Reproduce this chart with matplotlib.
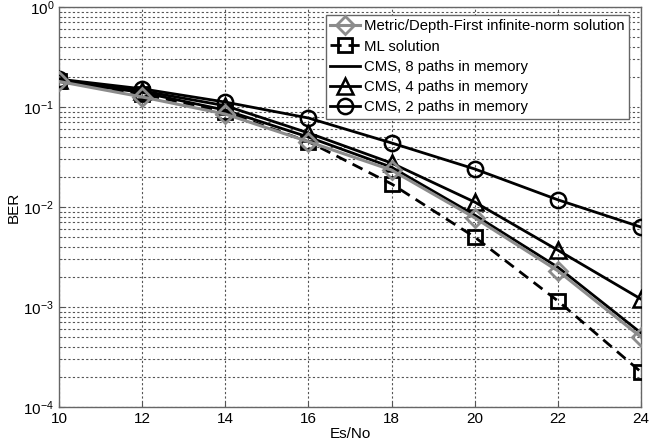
import matplotlib
matplotlib.use("Agg")
import matplotlib.pyplot as plt
from matplotlib.ticker import LogLocator, NullFormatter, FixedLocator

plt.rcParams['font.family'] = ['Liberation Sans', 'DejaVu Sans']

esno = [10, 12, 14, 16, 18, 20, 22, 24]
ber_metric = [0.18, 0.126, 0.085, 0.045, 0.0234, 0.0078, 0.0023, 0.0005]
ber_ml = [0.18, 0.135, 0.089, 0.045, 0.017, 0.005, 0.00115, 0.000224]
ber_cms8 = [0.18, 0.14, 0.093, 0.05, 0.025, 0.0083, 0.0025, 0.00055]
ber_cms4 = [0.185, 0.145, 0.103, 0.055, 0.0275, 0.0112, 0.0037, 0.0012]
ber_cms2 = [0.19, 0.152, 0.112, 0.0776, 0.0437, 0.024, 0.0118, 0.0063]

labels = ['Metric/Depth-First infinite-norm solution', 'ML solution',
          'CMS, 8 paths in memory', 'CMS, 4 paths in memory', 'CMS, 2 paths in memory']

fig = plt.figure(figsize=(6.69, 4.48), dpi=100)
ax = fig.add_axes([59/669, 41/448, (641-59)/669, (407-7)/448])

gray = '#8c8c8c'
l1, = ax.semilogy(esno, ber_metric, color=gray, lw=2.2, marker='D', ms=9,
                  mfc='none', mec=gray, mew=2, zorder=4)
l2, = ax.semilogy(esno, ber_ml, color='black', lw=2, ls='--', dashes=(4, 2.5), marker='s', ms=9.5,
                  mfc='none', mec='black', mew=2, zorder=3)
l3, = ax.semilogy(esno, ber_cms8, color='black', lw=2, zorder=3)
l4, = ax.semilogy(esno, ber_cms4, color='black', lw=2, marker='^', ms=12,
                  mfc='none', mec='black', mew=1.8, zorder=3)
l5, = ax.semilogy(esno, ber_cms2, color='black', lw=2, marker='o', ms=11,
                  mfc='none', mec='black', mew=1.8, zorder=3)

ax.set_xlim(10, 24)
ax.set_ylim(1e-4, 1)
ax.xaxis.set_major_locator(FixedLocator([10, 12, 14, 16, 18, 20, 22, 24]))
ax.yaxis.set_major_locator(LogLocator(base=10, numticks=10))
ax.yaxis.set_minor_locator(LogLocator(base=10, subs=range(2, 10), numticks=20))
ax.yaxis.set_minor_formatter(NullFormatter())

ax.grid(True, which='major', axis='both', ls=(0, (2, 2)), color='#555555', lw=0.8)
ax.grid(True, which='minor', axis='y', ls=(0, (2, 2)), color='#555555', lw=0.8)
ax.tick_params(which='both', direction='in', labelsize=11, color='#555555')
ax.tick_params(which='minor', length=2)
for s in ax.spines.values():
    s.set_color('#666666')
    s.set_linewidth(1)

ax.set_xlabel('Es/No', fontsize=11, labelpad=1)
ax.set_ylabel('BER', fontsize=11, labelpad=2)

leg = ax.legend([l1, l2, l3, l4, l5], labels, loc='upper right',
                bbox_to_anchor=(629/669, 433/448), bbox_transform=fig.transFigure,
                fontsize=10.7, frameon=True, fancybox=False, edgecolor='#666666',
                framealpha=1, borderpad=0.3, labelspacing=0.42, handlelength=2.0,
                handletextpad=0.25, borderaxespad=0)
leg.get_frame().set_linewidth(1)

fig.savefig('out.png', dpi=100)
